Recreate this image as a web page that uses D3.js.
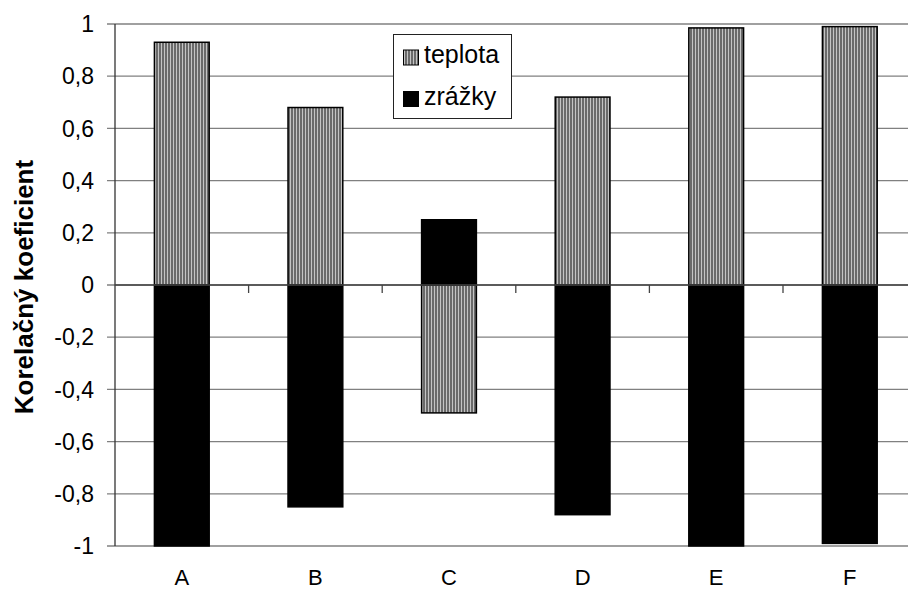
<!DOCTYPE html>
<html>
<head>
<meta charset="utf-8">
<script src="https://cdn.jsdelivr.net/npm/d3@7"></script>
<style>
  html, body { margin: 0; padding: 0; background: #fff; }
  svg { display: block; font-family: "Liberation Sans", Arial, sans-serif; }
</style>
</head>
<body>
<svg id="chart" width="908" height="592"></svg>
<script>
// Correlation coefficients per site
const categories = ["A", "B", "C", "D", "E", "F"];
const teplota = [0.93, 0.68, -0.49, 0.72, 0.985, 0.99];
const zrazky = [-1.0, -0.85, 0.25, -0.88, -1.0, -0.99];
const yTicks = [-1, -0.8, -0.6, -0.4, -0.2, 0, 0.2, 0.4, 0.6, 0.8, 1];
const seriesNames = ["teplota", "zrážky"];

const svg = d3.select("#chart");
const margin = { left: 115, top: 24, bottom: 546 };
const bandStep = 133.6;

const x = d3.scaleBand()
  .domain(categories)
  .range([margin.left, margin.left + bandStep * categories.length])
  .paddingInner(0.59)
  .paddingOuter(0.295);

const y = d3.scaleLinear().domain([-1, 1]).range([margin.bottom, margin.top]);

// Vertical stripe fill used for the temperature series
const defs = svg.append("defs");
const pat = defs.append("pattern")
  .attr("id", "stripes")
  .attr("patternUnits", "userSpaceOnUse")
  .attr("width", 3).attr("height", 10);
pat.append("rect").attr("width", 3).attr("height", 10).attr("fill", "#6a6a6a");
pat.append("rect").attr("x", 2).attr("width", 1).attr("height", 10).attr("fill", "#c4c4c4");

// Decimal comma, integers without decimals
const fmt = v => (Number.isInteger(v) ? String(v) : d3.format(".1f")(v).replace(".", ",").replace("−", "-"));

// Horizontal gridlines with left tick marks
svg.append("g")
  .selectAll("line")
  .data(yTicks)
  .join("line")
  .attr("x1", margin.left - 8)
  .attr("x2", 908)
  .attr("y1", d => y(d))
  .attr("y2", d => y(d))
  .attr("stroke", "#808080")
  .attr("stroke-width", 1.3);

// Y tick labels
svg.append("g")
  .selectAll("text")
  .data(yTicks)
  .join("text")
  .attr("x", 94)
  .attr("y", d => y(d))
  .attr("dy", "0.36em")
  .attr("text-anchor", "end")
  .attr("font-size", 23)
  .attr("fill", "#000")
  .text(fmt);

// Bars
const barGroup = svg.append("g");
function drawSeries(values, fill) {
  barGroup.append("g")
    .selectAll("rect")
    .data(values.map((v, i) => ({ c: categories[i], v })))
    .join("rect")
    .attr("x", d => x(d.c))
    .attr("width", x.bandwidth())
    .attr("y", d => y(Math.max(0, d.v)))
    .attr("height", d => Math.abs(y(d.v) - y(0)))
    .attr("fill", fill)
    .attr("stroke", "#000")
    .attr("stroke-width", 1.5);
}
drawSeries(teplota, "url(#stripes)");
drawSeries(zrazky, "#000");

// Y axis line
svg.append("line")
  .attr("x1", margin.left).attr("x2", margin.left)
  .attr("y1", y(1)).attr("y2", y(-1))
  .attr("stroke", "#333").attr("stroke-width", 1.3);

// Zero axis with tick marks between categories
svg.append("line")
  .attr("x1", margin.left).attr("x2", 908)
  .attr("y1", y(0)).attr("y2", y(0))
  .attr("stroke", "#444").attr("stroke-width", 1.3);
const boundaries = categories.slice(1).map(c => x(c) - x.step() * x.paddingInner() / 2);
svg.append("g")
  .selectAll("line")
  .data(boundaries)
  .join("line")
  .attr("x1", d => d).attr("x2", d => d)
  .attr("y1", y(0)).attr("y2", y(0) + 8)
  .attr("stroke", "#444").attr("stroke-width", 1.3);

// Category labels
svg.append("g")
  .selectAll("text")
  .data(categories)
  .join("text")
  .attr("x", d => x(d) + x.bandwidth() / 2)
  .attr("y", 585)
  .attr("text-anchor", "middle")
  .attr("font-size", 22)
  .text(d => d);

// Axis title
svg.append("text")
  .attr("transform", `translate(33,287) rotate(-90)`)
  .attr("text-anchor", "middle")
  .attr("font-size", 26)
  .attr("font-weight", "bold")
  .text("Korelačný koeficient");

// Legend
const legend = svg.append("g");
legend.append("rect")
  .attr("x", 393.5).attr("y", 34.5)
  .attr("width", 118).attr("height", 84)
  .attr("fill", "#fff").attr("stroke", "#222").attr("stroke-width", 1);
const legendFills = ["url(#stripes)", "#000"];
seriesNames.forEach((name, i) => {
  const cy = 57.5 + i * 41.5;
  legend.append("rect")
    .attr("x", 403.5).attr("y", cy - 7.5)
    .attr("width", 15).attr("height", 15)
    .attr("fill", legendFills[i]).attr("stroke", "#000").attr("stroke-width", 1);
  legend.append("text")
    .attr("x", 424).attr("y", cy + 5.5)
    .attr("font-size", 25)
    .text(name);
});
</script>
</body>
</html>
